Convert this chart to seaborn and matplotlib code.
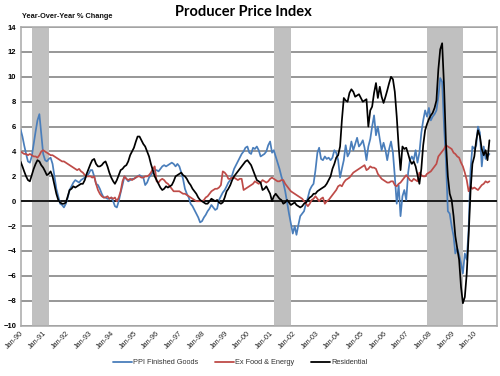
import matplotlib
matplotlib.use("Agg")
import matplotlib.pyplot as plt
import matplotlib.dates as mdates
import seaborn as sns
import pandas as pd
from matplotlib.lines import Line2D

# monthly year-over-year % change, Jan-1990 .. Sep-2010
ppi_finished = (
    [5.8, 5.2, 4.5, 3.8, 3.2, 3.1, 3.6, 4.6, 5.6, 6.5, 7.0, 5.4]
    + [3.8, 3.3, 3.2, 3.4, 3.5, 3.0, 2.0, 1.0, 0.4, -0.2, -0.3, -0.5]
    + [-0.2, 0.3, 0.9, 1.2, 1.5, 1.7, 1.6, 1.5, 1.7, 1.8, 1.9, 2.0]
    + [2.2, 2.5, 2.5, 2.0, 1.4, 1.3, 1.0, 0.6, 0.3, 0.3, 0.2, 0.2]
    + [0.3, 0.0, -0.4, -0.5, 0.0, 0.7, 1.3, 2.0, 1.8, 1.6, 1.7, 1.8]
    + [1.8, 1.9, 2.0, 2.1, 2.0, 1.9, 1.3, 1.5, 1.9, 2.1, 2.3, 2.5]
    + [2.5, 2.4, 2.6, 2.8, 2.9, 2.8, 2.9, 3.0, 3.1, 3.0, 2.8, 3.0]
    + [2.8, 2.3, 1.8, 1.0, 0.6, 0.3, -0.2, -0.4, -0.7, -1.0, -1.3, -1.7]
    + [-1.6, -1.3, -1.1, -0.8, -0.6, -0.3, -0.5, -0.7, -0.6, 0.1, 0.4, 0.7]
    + [0.9, 1.2, 1.5, 1.7, 2.1, 2.6, 2.9, 3.2, 3.5, 3.8, 4.0, 4.3]
    + [4.4, 3.9, 3.8, 4.3, 4.2, 4.4, 4.1, 3.6, 3.7, 3.8, 4.0, 4.5]
    + [4.8, 3.9, 4.1, 3.6, 3.1, 2.6, 2.0, 1.5, 0.8, -0.1, -1.0, -1.8]
    + [-2.6, -2.0, -2.7, -1.9, -1.2, -1.0, -0.8, -0.2, 0.3, 0.9, 1.2, 1.4]
    + [2.5, 3.9, 4.3, 3.4, 3.3, 3.6, 3.4, 3.5, 3.3, 3.5, 4.1, 3.9]
    + [3.3, 1.9, 2.6, 3.3, 4.5, 3.6, 3.9, 4.8, 4.1, 4.6, 5.1, 4.4]
    + [4.6, 4.9, 4.3, 3.3, 4.4, 5.0, 6.0, 6.9, 5.3, 6.0, 5.0, 4.1]
    + [4.7, 4.1, 3.3, 4.2, 4.8, 3.9, 2.0, -0.2, 1.3, -1.2, 0.4, 0.9]
    + [0.1, 2.3, 3.3, 3.6, 3.3, 4.1, 3.1, 3.9, 5.5, 6.5, 7.3, 6.8]
    + [7.5, 6.5, 6.8, 7.0, 7.3, 8.4, 9.9, 9.6, 6.0, 3.3, -0.8, -1.0]
    + [-2.0, -2.8, -4.2, -3.8, -4.3, -5.0, -5.8, -4.2, -4.7, -2.3, 2.5, 4.4]
    + [4.2, 4.5, 6.0, 5.5, 2.8, 4.4, 3.4, 3.6, 3.8]
)

ex_food_energy = (
    [4.0, 3.9, 3.8, 3.8, 3.7, 3.8, 3.7, 3.6, 3.6, 3.5, 3.7, 4.0]
    + [4.1, 4.0, 3.9, 3.8, 3.7, 3.7, 3.6, 3.5, 3.4, 3.3, 3.2, 3.2]
    + [3.1, 3.0, 2.9, 2.8, 2.7, 2.6, 2.5, 2.6, 2.4, 2.3, 2.1, 2.0]
    + [2.0, 2.0, 1.9, 2.0, 1.4, 0.9, 0.6, 0.4, 0.3, 0.3, 0.4, 0.2]
    + [0.3, 0.2, 0.3, 0.0, 0.3, 0.8, 1.6, 2.0, 1.8, 1.7, 1.8, 1.7]
    + [1.8, 1.9, 2.0, 2.0, 1.9, 1.9, 2.0, 2.0, 2.1, 2.3, 2.6, 2.8]
    + [1.6, 1.5, 1.7, 1.8, 1.7, 1.5, 1.4, 1.2, 1.0, 0.8, 0.8, 0.8]
    + [0.8, 0.7, 0.6, 0.6, 0.5, 0.4, 0.3, 0.2, 0.1, 0.0, 0.0, 0.0]
    + [0.0, 0.1, 0.3, 0.4, 0.6, 0.8, 0.9, 1.0, 1.0, 1.1, 1.3, 2.4]
    + [2.3, 2.1, 1.8, 1.8, 1.9, 1.9, 1.8, 1.7, 1.8, 1.8, 0.9, 1.0]
    + [1.1, 1.2, 1.3, 1.4, 1.6, 1.5, 1.4, 1.5, 1.7, 1.6, 1.5, 1.6]
    + [1.8, 1.9, 1.8, 1.7, 1.6, 1.6, 1.7, 1.7, 1.4, 1.2, 1.0, 0.8]
    + [0.7, 0.6, 0.5, 0.4, 0.3, 0.2, 0.0, -0.2, -0.4, -0.2, 0.1, 0.2]
    + [0.4, 0.2, 0.0, 0.2, 0.3, -0.2, 0.0, 0.1, 0.3, 0.5, 0.7, 0.9]
    + [1.2, 1.3, 1.2, 1.5, 1.7, 1.8, 1.9, 2.1, 2.3, 2.4, 2.5, 2.6]
    + [2.7, 2.8, 2.9, 2.5, 2.6, 2.8, 2.7, 2.7, 2.6, 2.2, 2.0, 1.8]
    + [1.7, 1.6, 1.5, 1.5, 1.6, 1.6, 1.3, 1.2, 1.4, 1.5, 1.7, 1.9]
    + [2.1, 1.9, 1.7, 1.6, 1.8, 1.7, 1.6, 2.3, 2.1, 2.0, 2.0, 2.2]
    + [2.3, 2.4, 2.6, 2.8, 3.0, 3.6, 3.8, 4.0, 4.2, 4.5, 4.4, 4.3]
    + [4.2, 3.9, 3.8, 3.6, 3.5, 3.1, 2.8, 2.3, 1.7, 0.8, 1.2, 1.0]
    + [1.1, 1.0, 0.9, 1.1, 1.3, 1.4, 1.6, 1.5, 1.6]
)

residential = (
    [3.2, 2.8, 2.4, 2.0, 1.7, 1.6, 2.1, 2.6, 3.0, 3.3, 3.2, 2.9]
    + [2.7, 2.4, 2.1, 2.2, 2.4, 2.0, 1.3, 0.6, 0.1, -0.1, -0.2, -0.2]
    + [-0.1, 0.4, 0.9, 1.0, 1.2, 1.1, 1.2, 1.3, 1.4, 1.4, 1.7, 2.2]
    + [2.6, 3.0, 3.3, 3.4, 3.0, 2.8, 2.8, 2.9, 3.1, 3.2, 2.8, 2.3]
    + [1.9, 1.6, 1.4, 1.7, 2.1, 2.5, 2.6, 2.8, 2.9, 3.2, 3.7, 4.0]
    + [4.3, 4.8, 5.2, 5.2, 4.9, 4.6, 4.4, 4.0, 3.6, 3.0, 2.5, 2.0]
    + [1.7, 1.4, 1.1, 0.9, 1.0, 1.2, 1.1, 1.2, 1.3, 1.6, 2.0, 2.1]
    + [2.2, 2.3, 2.1, 2.0, 1.8, 1.5, 1.3, 1.0, 0.8, 0.6, 0.3, 0.1]
    + [0.0, -0.1, -0.2, -0.2, 0.0, 0.2, 0.1, 0.0, 0.1, -0.1, -0.2, -0.1]
    + [0.3, 0.8, 1.0, 1.3, 1.7, 2.0, 2.2, 2.4, 2.6, 2.8, 3.0, 3.2]
    + [3.3, 3.1, 2.9, 2.5, 2.1, 1.7, 1.6, 1.5, 0.9, 1.0, 1.2, 0.9]
    + [0.6, 0.0, 0.4, 0.6, 0.4, 0.2, 0.1, -0.2, -0.1, 0.1, -0.1, -0.3]
    + [-0.2, -0.1, -0.3, -0.4, -0.5, -0.4, -0.2, -0.1, 0.1, 0.3, 0.4, 0.6]
    + [0.6, 0.8, 0.9, 1.0, 1.1, 1.2, 1.4, 1.7, 2.0, 2.6, 3.0, 3.5]
    + [3.7, 4.4, 6.5, 8.3, 8.1, 8.0, 8.7, 9.0, 8.8, 8.4, 8.5, 8.6]
    + [8.3, 8.0, 8.1, 8.2, 6.0, 7.3, 7.6, 8.7, 9.5, 8.3, 9.2, 8.4]
    + [7.9, 8.4, 8.9, 9.5, 10.0, 9.8, 8.8, 6.8, 4.4, 2.5, 4.4, 4.2]
    + [4.3, 3.8, 3.3, 3.0, 3.2, 2.8, 2.1, 1.4, 2.6, 4.5, 5.7, 6.2]
    + [6.6, 6.9, 7.1, 7.5, 8.1, 10.6, 12.2, 12.7, 9.2, 4.7, 2.0, 0.6]
    + [0.1, -1.2, -2.8, -3.8, -4.7, -6.9, -8.2, -7.7, -5.8, -2.8, 0.8, 3.0]
    + [3.6, 4.9, 5.7, 5.2, 4.2, 3.7, 4.1, 3.3, 4.9]
)

series_names = ["PPI Finished Goods", "Ex Food & Energy", "Residential"]
recessions = [("1990-07-01", "1991-03-31"),
              ("2001-03-01", "2001-11-30"),
              ("2007-12-01", "2009-06-30")]

dates = pd.date_range("1990-01-01", periods=len(ppi_finished), freq="MS")
df = pd.concat([
    pd.DataFrame({"date": dates, "value": vals, "series": name})
    for name, vals in zip(series_names, [ppi_finished, ex_food_energy, residential])
])

colors = {"PPI Finished Goods": "#4A7EBB", "Ex Food & Energy": "#BE4B48", "Residential": "#000000"}

sns.set_theme(style="white")
plt.rcParams["font.family"] = ["Liberation Sans", "DejaVu Sans"]

fig = plt.figure(figsize=(5, 3.76), dpi=100)
ax = fig.add_axes([0.041, 0.134, 0.953, 0.794])

for y in range(-10, 16, 2):
    ax.axhline(y, color="#8a8a8a", lw=1.25, zorder=1)
for start, end in recessions:
    ax.axvspan(pd.Timestamp(start), pd.Timestamp(end), color="#c0c0c0", lw=0, zorder=2)
ax.axhline(0, color="black", lw=1.2, zorder=3)

sns.lineplot(data=df, x="date", y="value", hue="series", palette=colors,
             linewidth=1.25, legend=False, ax=ax, zorder=4)

ax.set_xlim(pd.Timestamp("1990-01-01"), pd.Timestamp("2011-01-01"))
ax.set_ylim(-10, 14)
ax.set_yticks(range(-10, 15, 2))
ax.set_xticks(pd.date_range("1990-01-01", "2010-01-01", freq="YS"))
ax.xaxis.set_major_formatter(mdates.DateFormatter("%b-%y"))
ax.set_xlabel("")
ax.set_ylabel("")
ax.tick_params(axis="both", length=0)
ax.tick_params(axis="y", labelsize=5.5, pad=3, labelcolor="black")
ax.tick_params(axis="x", labelsize=5.2, pad=3, labelcolor="#222222")
for lbl in ax.get_yticklabels():
    lbl.set_fontweight("bold")
for lbl in ax.get_xticklabels():
    lbl.set_rotation(45)
    lbl.set_ha("right")
    lbl.set_rotation_mode("anchor")
for side in ["left", "right", "top", "bottom"]:
    ax.spines[side].set_color("#a8a8a8")
    ax.spines[side].set_linewidth(1.1)

fig.text(0.486, 0.968, "Producer Price Index", ha="center", va="center",
         fontsize=10.5, fontweight="bold", color="black",
         family=["Lato", "DejaVu Sans"])
fig.text(0.043, 0.955, "Year-Over-Year % Change", ha="left", va="center",
         fontsize=5.3, fontweight="bold", color="#111111")

handles = [Line2D([0], [0], color=colors[n], lw=1.3, label=n) for n in series_names]
fig.legend(handles=handles, loc="center", bbox_to_anchor=(0.48, 0.035), ncol=3,
           frameon=False, fontsize=5.3, handlelength=2.6, handletextpad=0.2,
           columnspacing=2.2, labelcolor="#333333")

fig.savefig("out.png", dpi=100)
